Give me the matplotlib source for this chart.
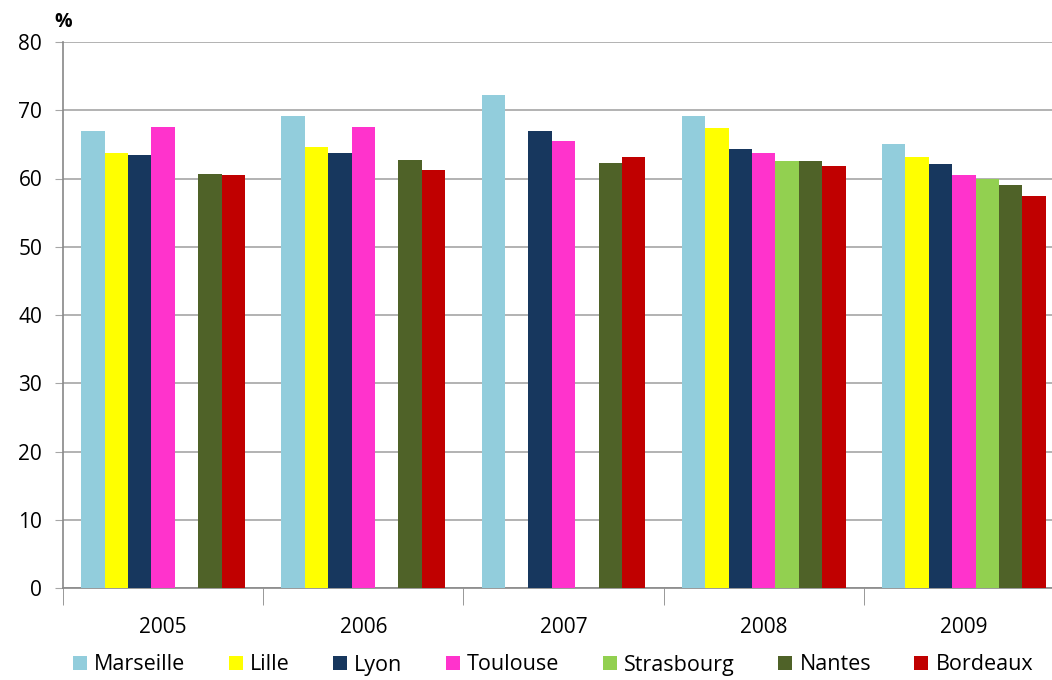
import numpy as np
import matplotlib.pyplot as plt

years = ['2005', '2006', '2007', '2008', '2009']
cities = ['Marseille', 'Lille', 'Lyon', 'Toulouse', 'Strasbourg', 'Nantes', 'Bordeaux']
colors = ['#92CDDC', '#FFFF00', '#17375E', '#FF33CC', '#92D050', '#4F6228', '#C00000']

nan = np.nan
marseille = [67.0, 69.1, 72.2, 69.1, 65.0]
lille = [63.7, 64.6, nan, 67.4, 63.2]
lyon = [63.5, 63.7, 66.9, 64.3, 62.1]
toulouse = [67.5, 67.5, 65.5, 63.7, 60.5]
strasbourg = [nan, nan, nan, 62.5, 60.0]
nantes = [60.7, 62.7, 62.3, 62.5, 59.1]
bordeaux = [60.5, 61.3, 63.2, 61.8, 57.5]
series = [marseille, lille, lyon, toulouse, strasbourg, nantes, bordeaux]

plt.rcParams['font.family'] = ['Open Sans', 'DejaVu Sans']

fig = plt.figure(figsize=(10.52, 6.8), dpi=100)
# plot area runs slightly past the right edge, like the original
ax = fig.add_axes([63 / 1052, 1 - 588 / 680, 1001 / 1052, 546 / 680])

x = np.arange(len(years))
w = 0.117
for i, (name, vals, c) in enumerate(zip(cities, series, colors)):
    ax.bar(x + (i - 3) * w, vals, width=w, color=c, label=name, zorder=3)

ax.set_xlim(-0.5, len(years) - 0.5)
ax.set_ylim(0, 80)
ax.set_yticks(range(0, 81, 10))
ax.yaxis.grid(True, color='#A6A6A6', linewidth=1.2, zorder=0)
ax.set_xticks(x)
ax.set_xticklabels(years)
ax.set_xticks(np.arange(-0.5, len(years), 1), minor=True)
ax.tick_params(axis='x', which='major', length=0, pad=21, labelsize=15)
ax.tick_params(axis='x', which='minor', length=12, color='#888888')
ax.tick_params(axis='y', length=6, color='#A6A6A6', labelsize=15, pad=9)
for s in ['top', 'right']:
    ax.spines[s].set_visible(False)
for s in ['left', 'bottom']:
    ax.spines[s].set_color('#888888')
    ax.spines[s].set_linewidth(1.2)

fig.text(54 / 1052, 1 - 22 / 680, '%', fontsize=14, fontweight='bold', ha='left', va='center')

fig.legend(loc='center', bbox_to_anchor=(553 / 1052, 1 - 665 / 680), ncol=7, frameon=False,
           fontsize=15.5, handlelength=0.65, handleheight=0.65, handletextpad=0.35,
           columnspacing=2.0)

plt.savefig('out.png')
